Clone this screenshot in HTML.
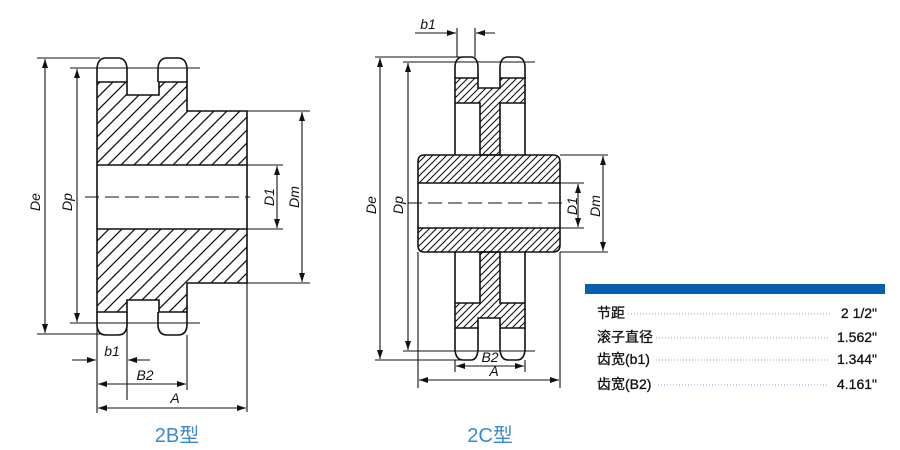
<!DOCTYPE html>
<html><head><meta charset="utf-8"><style>
body{margin:0;background:#fff;}
svg{display:block}
text{font-family:"Liberation Sans","Noto Sans CJK SC",sans-serif;}
.l{stroke:#111;stroke-width:1.6;fill:none}
.t{stroke:#111;stroke-width:1.1;fill:none}
.lab{font-style:italic;font-size:14px;fill:#111}
</style></head><body>
<svg width="900" height="450" viewBox="0 0 900 450">
<defs>
<pattern id="h1" patternUnits="userSpaceOnUse" width="13" height="13">
<path d="M-2,15 L15,-2 M-2,2 L2,-2 M11,15 L15,11" stroke="#111" stroke-width="1.3"/>
</pattern>
<pattern id="h2" patternUnits="userSpaceOnUse" width="7" height="7">
<path d="M-1,8 L8,-1 M-1,1 L1,-1 M6,8 L8,6" stroke="#111" stroke-width="1.1"/>
</pattern>
<marker id="a" markerWidth="10" markerHeight="8" refX="9" refY="4" orient="auto" markerUnits="userSpaceOnUse">
<path d="M0,1 L9,4 L0,7 Z" fill="#111"/>
</marker>
</defs>

<!-- ===== 2B ===== -->
<path d="M97,82 L127,82 L127,95 L159,95 L159,82 L187,82 L187,111 L247,111 L247,165 L97,165 Z" class="l" style="fill:url(#h1)"/>
<path d="M97,229 L247,229 L247,283 L187,283 L187,312 L159,312 L159,300 L127,300 L127,312 L97,312 Z" class="l" style="fill:url(#h1)"/>
<line x1="97" y1="165" x2="97" y2="229" class="l"/>
<line x1="247" y1="165" x2="247" y2="229" class="l"/>
<path d="M97,82 L97,68 Q98,58 106,58 L118,58 Q126,58 127,68 L127,82" class="l"/>
<path d="M158,82 L158,68 Q159,58 167,58 L178,58 Q186,58 187,68 L187,82" class="l"/>
<path d="M97,312 L97,326 Q98,335 106,335 L118,335 Q126,335 127,326 L127,312" class="l"/>
<path d="M158,312 L158,326 Q159,335 167,335 L178,335 Q186,335 187,326 L187,312" class="l"/>
<line x1="85" y1="197" x2="250" y2="197" class="t" stroke-dasharray="14,6"/>
<line x1="37" y1="58" x2="100" y2="58" class="t"/>
<line x1="37" y1="334" x2="100" y2="334" class="t"/>
<line x1="70" y1="68" x2="200" y2="68" class="t"/>
<line x1="70" y1="323" x2="200" y2="323" class="t"/>
<line x1="45" y1="196" x2="45" y2="59" class="t" marker-end="url(#a)"/>
<line x1="45" y1="196" x2="45" y2="333" class="t" marker-end="url(#a)"/>
<line x1="77" y1="196" x2="77" y2="69" class="t" marker-end="url(#a)"/>
<line x1="77" y1="196" x2="77" y2="322" class="t" marker-end="url(#a)"/>
<text class="lab" transform="translate(40,202) rotate(-90)" text-anchor="middle">De</text>
<text class="lab" transform="translate(72,202) rotate(-90)" text-anchor="middle">Dp</text>
<line x1="247" y1="165" x2="283" y2="165" class="t"/>
<line x1="247" y1="229" x2="283" y2="229" class="t"/>
<line x1="247" y1="111" x2="310" y2="111" class="t"/>
<line x1="247" y1="283" x2="310" y2="283" class="t"/>
<line x1="277" y1="197" x2="277" y2="166" class="t" marker-end="url(#a)"/>
<line x1="277" y1="197" x2="277" y2="228" class="t" marker-end="url(#a)"/>
<line x1="302" y1="197" x2="302" y2="112" class="t" marker-end="url(#a)"/>
<line x1="302" y1="197" x2="302" y2="282" class="t" marker-end="url(#a)"/>
<text class="lab" transform="translate(274,197) rotate(-90)" text-anchor="middle">D1</text>
<text class="lab" transform="translate(299,197) rotate(-90)" text-anchor="middle">Dm</text>
<line x1="97" y1="312" x2="97" y2="413" class="t"/>
<line x1="127" y1="312" x2="127" y2="400" class="t"/>
<line x1="187" y1="335" x2="187" y2="390" class="t"/>
<line x1="247" y1="283" x2="247" y2="412" class="t"/>
<line x1="72" y1="360" x2="96" y2="360" class="t" marker-end="url(#a)"/>
<line x1="150" y1="360" x2="128" y2="360" class="t" marker-end="url(#a)"/>
<text class="lab" x="112" y="356" text-anchor="middle">b1</text>
<line x1="142" y1="384" x2="98" y2="384" class="t" marker-end="url(#a)"/>
<line x1="142" y1="384" x2="186" y2="384" class="t" marker-end="url(#a)"/>
<text class="lab" x="145" y="380" text-anchor="middle">B2</text>
<line x1="172" y1="408" x2="98" y2="408" class="t" marker-end="url(#a)"/>
<line x1="172" y1="408" x2="246" y2="408" class="t" marker-end="url(#a)"/>
<text class="lab" x="175" y="403" text-anchor="middle">A</text>
<text x="177" y="442" text-anchor="middle" font-size="20" fill="#3a8ad0">2B型</text>

<!-- ===== 2C ===== -->
<path d="M455,78 L478,78 L478,88 L500,88 L500,78 L525,78 L525,103 L500,103 L500,155 L480,155 L480,103 L455,103 Z" class="l" style="fill:url(#h2)"/>
<path d="M455,328 L478,328 L478,318 L500,318 L500,328 L525,328 L525,303 L500,303 L500,252 L480,252 L480,303 L455,303 Z" class="l" style="fill:url(#h2)"/>
<line x1="455" y1="103" x2="455" y2="155" class="l"/>
<line x1="525" y1="103" x2="525" y2="155" class="l"/>
<line x1="455" y1="252" x2="455" y2="303" class="l"/>
<line x1="525" y1="252" x2="525" y2="303" class="l"/>
<path d="M424,155 L553,155 Q560,155 560,162 L560,183 L418,183 L418,162 Q418,155 424,155 Z" class="l" style="fill:url(#h2)"/>
<path d="M418,228 L560,228 L560,245 Q560,252 553,252 L424,252 Q418,252 418,245 Z" class="l" style="fill:url(#h2)"/>
<line x1="418" y1="183" x2="418" y2="228" class="l"/>
<line x1="560" y1="183" x2="560" y2="228" class="l"/>
<line x1="408" y1="203" x2="565" y2="203" class="t" stroke-dasharray="14,6"/>
<path d="M455,78 L455,66 Q456,57 463,57 L471,57 Q477,57 478,66 L478,78" class="l"/>
<path d="M500,78 L500,66 Q501,57 508,57 L517,57 Q524,57 525,66 L525,78" class="l"/>
<path d="M455,328 L455,350 Q456,360 463,360 L471,360 Q477,360 478,350 L478,328" class="l"/>
<path d="M500,328 L500,350 Q501,360 508,360 L517,360 Q524,360 525,350 L525,328" class="l"/>
<line x1="375" y1="57" x2="470" y2="57" class="t"/>
<line x1="375" y1="360" x2="470" y2="360" class="t"/>
<line x1="403" y1="62" x2="535" y2="62" class="t"/>
<line x1="403" y1="351" x2="535" y2="351" class="t"/>
<line x1="380" y1="205" x2="380" y2="58" class="t" marker-end="url(#a)"/>
<line x1="380" y1="205" x2="380" y2="359" class="t" marker-end="url(#a)"/>
<line x1="408" y1="205" x2="408" y2="63" class="t" marker-end="url(#a)"/>
<line x1="408" y1="205" x2="408" y2="350" class="t" marker-end="url(#a)"/>
<text class="lab" transform="translate(376,205) rotate(-90)" text-anchor="middle">De</text>
<text class="lab" transform="translate(403,205) rotate(-90)" text-anchor="middle">Dp</text>
<line x1="560" y1="183" x2="584" y2="183" class="t"/>
<line x1="560" y1="228" x2="584" y2="228" class="t"/>
<line x1="560" y1="155" x2="608" y2="155" class="t"/>
<line x1="560" y1="252" x2="608" y2="252" class="t"/>
<line x1="578" y1="205" x2="578" y2="184" class="t" marker-end="url(#a)"/>
<line x1="578" y1="205" x2="578" y2="227" class="t" marker-end="url(#a)"/>
<line x1="603" y1="205" x2="603" y2="156" class="t" marker-end="url(#a)"/>
<line x1="603" y1="205" x2="603" y2="251" class="t" marker-end="url(#a)"/>
<text class="lab" transform="translate(577,206) rotate(-90)" text-anchor="middle">D1</text>
<text class="lab" transform="translate(600,206) rotate(-90)" text-anchor="middle">Dm</text>
<line x1="457" y1="28" x2="457" y2="57" class="t"/>
<line x1="475" y1="28" x2="475" y2="57" class="t"/>
<line x1="415" y1="33" x2="456" y2="33" class="t" marker-end="url(#a)"/>
<line x1="495" y1="33" x2="476" y2="33" class="t" marker-end="url(#a)"/>
<text class="lab" x="428" y="29" text-anchor="middle">b1</text>
<line x1="455" y1="360" x2="455" y2="372" class="t"/>
<line x1="525" y1="360" x2="525" y2="372" class="t"/>
<line x1="418" y1="252" x2="418" y2="388" class="t"/>
<line x1="560" y1="252" x2="560" y2="388" class="t"/>
<line x1="490" y1="366" x2="456" y2="366" class="t" marker-end="url(#a)"/>
<line x1="490" y1="366" x2="524" y2="366" class="t" marker-end="url(#a)"/>
<text class="lab" x="490" y="362" text-anchor="middle">B2</text>
<line x1="490" y1="380" x2="419" y2="380" class="t" marker-end="url(#a)"/>
<line x1="490" y1="380" x2="559" y2="380" class="t" marker-end="url(#a)"/>
<text class="lab" x="494" y="376" text-anchor="middle">A</text>
<text x="490" y="442" text-anchor="middle" font-size="20" fill="#3a8ad0">2C型</text>

<!-- table -->
<rect x="585" y="284" width="300" height="10" fill="#0a5cb0"/>
<g font-size="14" fill="#111" stroke="#111" stroke-width="0.3">
<text x="597" y="318">节距</text>
<text x="597" y="342">滚子直径</text>
<text x="597" y="364">齿宽(b1)</text>
<text x="597" y="389">齿宽(B2)</text>
<text x="877" y="318" text-anchor="end">2 1/2"</text>
<text x="877" y="342" text-anchor="end">1.562"</text>
<text x="877" y="364" text-anchor="end">1.344"</text>
<text x="877" y="389" text-anchor="end">4.161"</text>
</g>
<g stroke="#7aaee0" stroke-width="1" stroke-dasharray="1,2">
<line x1="628" y1="314" x2="832" y2="314"/>
<line x1="656" y1="338" x2="828" y2="338"/>
<line x1="656" y1="360" x2="828" y2="360"/>
<line x1="658" y1="385" x2="828" y2="385"/>
</g>
</svg>
</body></html>
